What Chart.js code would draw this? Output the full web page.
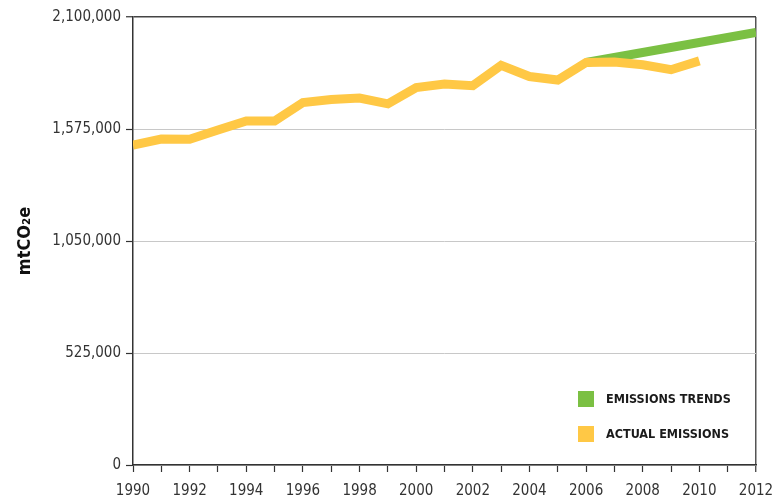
<!DOCTYPE html>
<html>
<head>
<meta charset="utf-8">
<script src="https://cdn.jsdelivr.net/npm/chart.js@4/dist/chart.umd.min.js"></script>
<style>
  html, body { margin: 0; padding: 0; background: #fff; }
  #wrap { width: 784px; height: 497px; }
</style>
</head>
<body>
<div id="wrap"><canvas id="c" width="784" height="497"></canvas></div>
<script>
// ---- Data ----
const actualYears = [1990, 1991, 1992, 1993, 1994, 1995, 1996, 1997, 1998, 1999, 2000,
                     2001, 2002, 2003, 2004, 2005, 2006, 2007, 2008, 2009, 2010];
const actualValues = [1500000, 1528000, 1527000, 1570000, 1612500, 1612500, 1699000, 1713000,
                      1720000, 1693000, 1769500, 1786000, 1778000, 1873600, 1821000, 1804700,
                      1886700, 1889000, 1876000, 1853000, 1894500];
const trendYears = [2006, 2012];
const trendValues = [1886700, 2028000];
const seriesLabels = ['ACTUAL EMISSIONS', 'EMISSIONS TRENDS'];
const yTicks = [0, 525000, 1050000, 1575000, 2100000];
const xRange = [1990, 2012];
const yTitle = 'mtCO\u2082e';

const FONT = "'Liberation Sans Narrow', 'DejaVu Sans Condensed', 'Roboto Condensed', 'Liberation Sans', sans-serif";
const DARK = '#333333';
const YELLOW = '#FFC845';
const GREEN = '#7BC043';

const toPoints = (xs, ys) => xs.map((x, i) => ({ x: x, y: ys[i] }));

const legendPlugin = {
  id: 'insideLegend',
  afterDraw(chart) {
    const ctx = chart.ctx;
    const area = chart.chartArea;
    const order = [1, 0];
    ctx.save();
    order.forEach((di, i) => {
      const ds = chart.data.datasets[di];
      const bx = area.right - 178;
      const by = area.bottom - 74 + i * 35;
      ctx.fillStyle = ds.borderColor;
      ctx.fillRect(bx, by, 16, 16);
      ctx.fillStyle = '#1a1a1a';
      ctx.font = "bold 12.5px " + FONT;
      ctx.textBaseline = 'middle';
      ctx.textAlign = 'left';
      ctx.fillText(ds.label, bx + 28, by + 9);
    });
    ctx.restore();
  }
};

new Chart(document.getElementById('c'), {
  type: 'line',
  data: {
    datasets: [
      {
        label: seriesLabels[0],
        data: toPoints(actualYears, actualValues),
        borderColor: YELLOW,
        backgroundColor: YELLOW,
        borderWidth: 9,
        borderCapStyle: 'butt',
        borderJoinStyle: 'miter',
        pointRadius: 0,
        tension: 0,
        fill: false
      },
      {
        label: seriesLabels[1],
        data: toPoints(trendYears, trendValues),
        borderColor: GREEN,
        backgroundColor: GREEN,
        borderWidth: 9,
        borderCapStyle: 'butt',
        borderJoinStyle: 'miter',
        pointRadius: 0,
        tension: 0,
        fill: false
      }
    ]
  },
  options: {
    responsive: false,
    animation: false,
    devicePixelRatio: 1,
    layout: { padding: { top: 17, right: 28, left: 0, bottom: 0 } },
    plugins: {
      legend: { display: false },
      tooltip: { enabled: false }
    },
    scales: {
      x: {
        type: 'linear',
        min: xRange[0],
        max: xRange[1],
        afterFit(scale) { scale.height = 32; },
        afterBuildTicks(scale) {
          const t = [];
          for (let v = xRange[0]; v <= xRange[1]; v++) t.push({ value: v });
          scale.ticks = t;
        },
        ticks: {
          autoSkip: false,
          maxRotation: 0,
          padding: 10,
          color: DARK,
          font: { family: FONT, size: 15 },
          callback: (v) => (v % 2 === 0 ? String(v) : '')
        },
        grid: {
          drawOnChartArea: true,
          color: (c) => (c.tick && c.tick.value === xRange[1] ? '#555555' : 'rgba(0,0,0,0)'),
          lineWidth: (c) => (c.tick && c.tick.value === xRange[1] ? 1.5 : 1),
          tickColor: DARK,
          tickLength: 7,
          tickWidth: 1.2
        },
        border: { display: true, color: DARK, width: 1.5 }
      },
      y: {
        type: 'linear',
        min: yTicks[0],
        max: yTicks[yTicks.length - 1],
        afterFit(scale) { scale.width = 133; },
        afterBuildTicks(scale) { scale.ticks = yTicks.map(v => ({ value: v })); },
        ticks: {
          padding: 5,
          color: DARK,
          font: { family: FONT, size: 15 },
          callback: (v) => Number(v).toLocaleString('en-US')
        },
        grid: {
          color: (c) => (c.tick && c.tick.value === yTicks[yTicks.length - 1] ? '#444444' : '#C8C8C8'),
          lineWidth: (c) => (c.tick && c.tick.value === yTicks[yTicks.length - 1] ? 1.5 : 1),
          tickColor: DARK,
          tickLength: 7,
          tickWidth: 1.2
        },
        border: { display: true, color: DARK, width: 1.5 },
        title: {
          display: true,
          text: yTitle,
          color: '#111111',
          font: { family: FONT, size: 18, weight: 'bold' },
          padding: { top: 15, bottom: 0 }
        }
      }
    }
  },
  plugins: [legendPlugin]
});
</script>
</body>
</html>
